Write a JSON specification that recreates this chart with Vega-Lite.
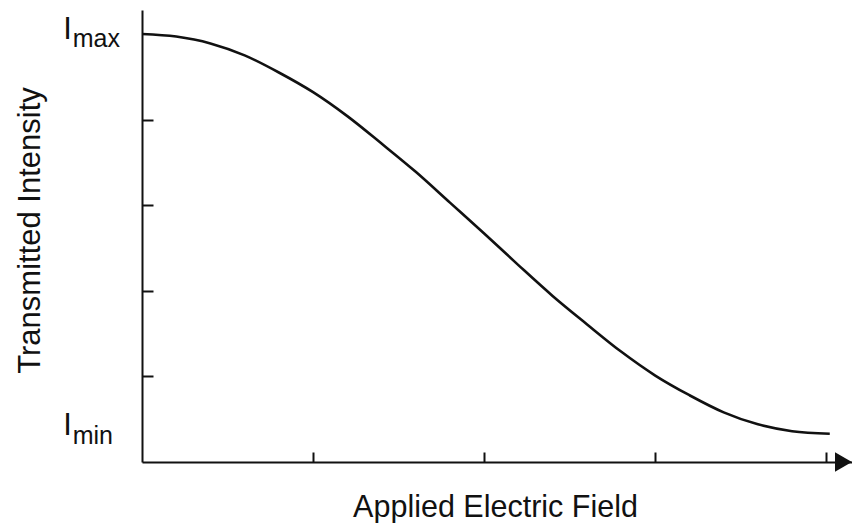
{
  "$schema": "https://vega.github.io/schema/vega-lite/v6.json",
  "width": 710,
  "height": 452,
  "autosize": {"type": "none"},
  "padding": {"left": 142, "top": 10, "right": 0, "bottom": 61},
  "background": "white",
  "config": {"view": {"stroke": null}, "font": "Liberation Sans"},
  "layer": [
    {
      "data": {"values": [
        {"field": 0.0, "intensity": 5.00},
        {"field": 0.2, "intensity": 4.97},
        {"field": 0.4, "intensity": 4.89},
        {"field": 0.6, "intensity": 4.75},
        {"field": 0.8, "intensity": 4.55},
        {"field": 1.0, "intensity": 4.32},
        {"field": 1.2, "intensity": 4.04},
        {"field": 1.4, "intensity": 3.72},
        {"field": 1.6, "intensity": 3.39},
        {"field": 1.8, "intensity": 3.03},
        {"field": 2.0, "intensity": 2.67},
        {"field": 2.2, "intensity": 2.30},
        {"field": 2.4, "intensity": 1.94},
        {"field": 2.6, "intensity": 1.61},
        {"field": 2.8, "intensity": 1.29},
        {"field": 3.0, "intensity": 1.01},
        {"field": 3.2, "intensity": 0.78},
        {"field": 3.4, "intensity": 0.58},
        {"field": 3.6, "intensity": 0.44},
        {"field": 3.8, "intensity": 0.36},
        {"field": 4.02, "intensity": 0.33}
      ]},
      "mark": {"type": "line", "interpolate": "monotone", "color": "#111", "strokeWidth": 2.6},
      "encoding": {
        "x": {
          "field": "field", "type": "quantitative",
          "scale": {"domain": [0, 4.15], "nice": false, "zero": false},
          "axis": {
            "title": "Applied Electric Field",
            "values": [1, 2, 3, 4],
            "labels": false,
            "grid": false,
            "tickSize": -10, "tickWidth": 2, "tickColor": "#111",
            "domainColor": "#111", "domainWidth": 2,
            "titleFont": "Liberation Sans", "titleFontSize": 30.5, "titleFontWeight": "normal", "titleColor": "#111",
            "titleX": 353, "titleY": 54, "titleBaseline": "alphabetic", "titleAlign": "center"
          }
        },
        "y": {
          "field": "intensity", "type": "quantitative",
          "scale": {"domain": [0, 5.28], "nice": false, "zero": false},
          "axis": {
            "title": "Transmitted Intensity",
            "values": [1, 2, 3, 4],
            "labels": false,
            "grid": false,
            "tickSize": -11, "tickWidth": 2, "tickColor": "#111",
            "domainColor": "#111", "domainWidth": 2,
            "titleFont": "Liberation Sans", "titleFontSize": 31, "titleFontWeight": "normal", "titleColor": "#111",
            "titleAngle": -90,
            "titleX": -103, "titleY": 220, "titleBaseline": "alphabetic", "titleAlign": "center"
          }
        }
      }
    },
    {
      "data": {"values": [{"field": 4.1, "intensity": 0}]},
      "mark": {"type": "point", "shape": "triangle-right", "filled": true, "color": "#111", "size": 380, "opacity": 1},
      "encoding": {
        "x": {"field": "field", "type": "quantitative"},
        "y": {"field": "intensity", "type": "quantitative"}
      }
    },
    {
      "data": {"values": [
        {"field": -0.435, "intensity": 4.94, "label": "I"},
        {"field": -0.435, "intensity": 0.315, "label": "I"}
      ]},
      "mark": {"type": "text", "align": "center", "baseline": "alphabetic", "fontSize": 31, "color": "#111", "font": "Liberation Sans"},
      "encoding": {
        "x": {"field": "field", "type": "quantitative"},
        "y": {"field": "intensity", "type": "quantitative"},
        "text": {"field": "label"}
      }
    },
    {
      "data": {"values": [
        {"field": -0.405, "intensity": 4.85, "label": "max"},
        {"field": -0.405, "intensity": 0.21, "label": "min"}
      ]},
      "mark": {"type": "text", "align": "left", "baseline": "alphabetic", "fontSize": 25, "color": "#111", "font": "Liberation Sans"},
      "encoding": {
        "x": {"field": "field", "type": "quantitative"},
        "y": {"field": "intensity", "type": "quantitative"},
        "text": {"field": "label"}
      }
    }
  ]
}
